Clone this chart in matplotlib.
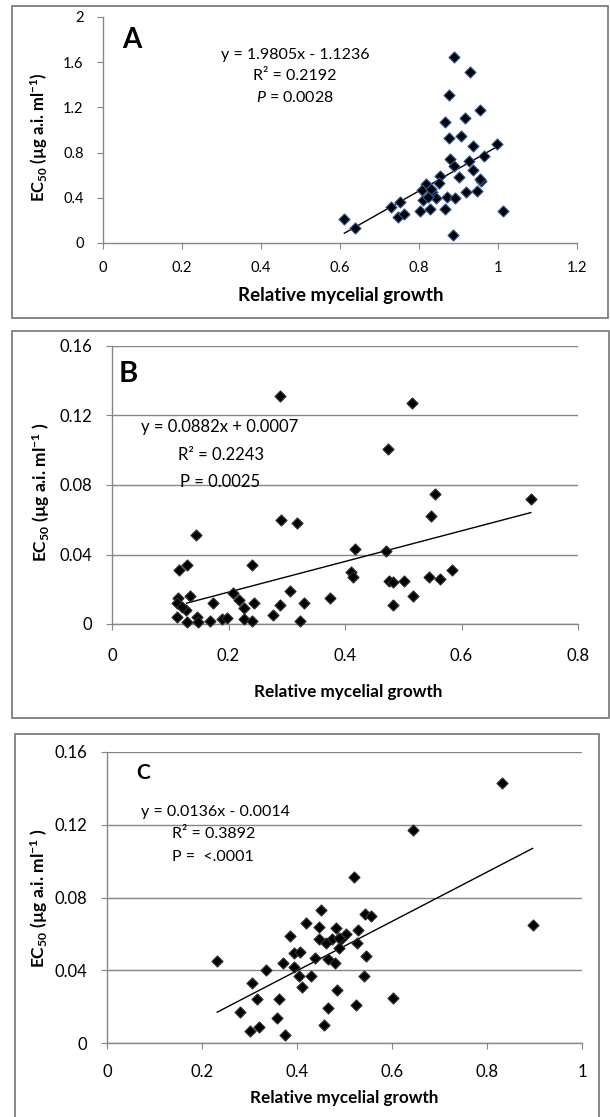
import matplotlib

matplotlib.use("Agg")
import matplotlib.pyplot as plt
from matplotlib.patches import Rectangle
import numpy as np

plt.rcParams["font.family"] = ["Lato", "DejaVu Sans"]
plt.rcParams["mathtext.fontset"] = "custom"
plt.rcParams["mathtext.rm"] = "Lato"
plt.rcParams["mathtext.it"] = "Lato:italic"
plt.rcParams["mathtext.bf"] = "Lato:bold"

W, H = 610, 1117
GRAY = "#868686"

# ---- panel A data ----
a_x = [0.888, 0.928, 0.876, 0.954, 0.867, 0.916, 0.876, 0.907, 0.937, 0.998,
       0.878, 0.965, 0.927, 0.888, 0.901, 0.937, 0.958, 0.854, 0.817, 0.850,
       0.808, 0.833, 0.844, 0.810, 0.871, 0.891, 0.920, 0.948, 0.823, 0.802,
       0.827, 0.865, 1.013, 0.885, 0.728, 0.752, 0.748, 0.762, 0.611, 0.638,
       0.831, 0.954]
a_y = [1.643, 1.510, 1.313, 1.177, 1.068, 1.103, 0.926, 0.950, 0.861, 0.876,
       0.743, 0.773, 0.729, 0.684, 0.581, 0.646, 0.552, 0.596, 0.522, 0.528,
       0.469, 0.448, 0.398, 0.383, 0.404, 0.398, 0.454, 0.457, 0.404, 0.280,
       0.301, 0.301, 0.280, 0.074, 0.316, 0.360, 0.227, 0.257, 0.212, 0.130,
       0.478, 0.566]
a_fit = (1.9805, -1.1236)
a_fit_range = (0.611, 0.998)

# ---- panel B data ----
b_x = [0.289, 0.515, 0.473, 0.554, 0.719, 0.548, 0.290, 0.318, 0.144, 0.417,
       0.471, 0.129, 0.241, 0.115, 0.411, 0.413, 0.584, 0.544, 0.563, 0.476,
       0.482, 0.502, 0.306, 0.208, 0.375, 0.517, 0.113, 0.134, 0.218, 0.173,
       0.244, 0.329, 0.483, 0.288, 0.112, 0.127, 0.226, 0.276, 0.112, 0.146,
       0.168, 0.188, 0.198, 0.227, 0.241, 0.322, 0.128, 0.148, 0.121]
b_y = [0.131, 0.127, 0.101, 0.075, 0.072, 0.062, 0.060, 0.058, 0.051, 0.043,
       0.042, 0.034, 0.034, 0.031, 0.030, 0.027, 0.031, 0.027, 0.026, 0.025,
       0.024, 0.025, 0.019, 0.018, 0.015, 0.016, 0.015, 0.016, 0.014, 0.012,
       0.012, 0.012, 0.011, 0.011, 0.012, 0.008, 0.009, 0.005, 0.004, 0.004,
       0.0015, 0.003, 0.0035, 0.003, 0.0017, 0.002, 0.001, 0.001, 0.010]
b_fit = (0.0882, 0.0007)
b_fit_range = (0.128, 0.719)

# ---- panel C data ----
c_x = [0.832, 0.645, 0.520, 0.450, 0.543, 0.555, 0.418, 0.447, 0.896, 0.482,
       0.528, 0.504, 0.386, 0.447, 0.474, 0.493, 0.460, 0.526, 0.488, 0.393,
       0.407, 0.546, 0.437, 0.466, 0.479, 0.232, 0.370, 0.393, 0.335, 0.405,
       0.430, 0.542, 0.410, 0.305, 0.484, 0.603, 0.316, 0.362, 0.525, 0.466,
       0.280, 0.358, 0.457, 0.302, 0.320, 0.375, 0.489]
c_y = [0.143, 0.117, 0.091, 0.073, 0.071, 0.070, 0.066, 0.064, 0.065, 0.063,
       0.062, 0.060, 0.059, 0.057, 0.057, 0.057, 0.055, 0.055, 0.052, 0.0495,
       0.050, 0.048, 0.047, 0.046, 0.044, 0.045, 0.044, 0.042, 0.040, 0.037,
       0.037, 0.037, 0.031, 0.033, 0.029, 0.025, 0.024, 0.024, 0.021, 0.019,
       0.017, 0.014, 0.010, 0.0066, 0.0086, 0.0046, 0.058]
c_fit = (0.1356, -0.0145)   # line as drawn on the figure
c_fit_range = (0.232, 0.896)

ylab = r"EC$_{\mathbf{50}}$ (µg a.i. ml$^{\mathbf{-1}}$)"
ylab_sp = r"EC$_{\mathbf{50}}$ (µg a.i. ml$^{\mathbf{-1}}$ )"


def px_axes(fig, left, top, right, bottom):
    return fig.add_axes([left / W, 1 - bottom / H, (right - left) / W, (bottom - top) / H])


def px_frame(fig, left, top, right, bottom):
    fig.add_artist(Rectangle((left / W, 1 - bottom / H), (right - left) / W,
                             (bottom - top) / H, transform=fig.transFigure,
                             fill=False, edgecolor="#7f7f7f", lw=1.3))


def ftext(fig, x, y, s, **kw):
    kw.setdefault("ha", "center")
    kw.setdefault("va", "center")
    fig.text(x / W, 1 - y / H, s, **kw)


def style(ax, xticks, yticks, fs, xpad, ypad, grid):
    ax.set_xlim(xticks[0], xticks[-1])
    ax.set_ylim(yticks[0], yticks[-1])
    for s in ("top", "right"):
        ax.spines[s].set_visible(False)
    for s in ("left", "bottom"):
        ax.spines[s].set_color(GRAY)
        ax.spines[s].set_linewidth(1.0)
    ax.set_xticks(xticks, [f"{v:g}" for v in xticks])
    ax.set_yticks(yticks, [f"{v:g}" for v in yticks])
    ax.tick_params(direction="out", length=4, color=GRAY, labelsize=fs)
    ax.tick_params(axis="x", pad=xpad)
    ax.tick_params(axis="y", pad=ypad)
    if grid:
        ax.yaxis.grid(True, color=GRAY, lw=1.0)
        ax.set_axisbelow(True)
    for sp in ax.spines.values():
        sp.set_clip_on(False)


def draw(ax, x, y, fit, rng, edge):
    ax.scatter(x, y, marker="D", s=32, c="black", edgecolors=edge, linewidths=0.8,
               zorder=3, clip_on=False)
    xs = np.array(rng)
    ax.plot(xs, fit[0] * xs + fit[1], color="black", lw=1.0, zorder=2)


fig = plt.figure(figsize=(W / 100, H / 100), dpi=100)

# panel A
px_frame(fig, 12, 6, 608, 318)
axA = px_axes(fig, 103, 17, 577, 243)
style(axA, np.arange(0, 1.21, 0.2).round(1), np.arange(0, 2.01, 0.4).round(1), 10.5, 9, 10, False)
draw(axA, a_x, a_y, a_fit, a_fit_range, "#2E5C9E")
ftext(fig, 132, 40, "A", fontsize=20, fontweight="bold")
ftext(fig, 295, 55, "y = 1.9805x - 1.1236", fontsize=11.5)
ftext(fig, 295, 76, "R² = 0.2192", fontsize=11.5)
ftext(fig, 295, 97, r"$P$ = 0.0028", fontsize=11.5)
ftext(fig, 341, 296, "Relative mycelial growth", fontsize=13.5, fontweight="bold")
ftext(fig, 39, 137, ylab, fontsize=12, fontweight="bold", rotation=90)

# panel B
px_frame(fig, 12, 331, 609, 718)
axB = px_axes(fig, 112, 346, 578, 624)
style(axB, np.arange(0, 0.81, 0.2).round(1), np.arange(0, 0.161, 0.04).round(2), 12, 13, 10, True)
draw(axB, b_x, b_y, b_fit, b_fit_range, "#303030")
ftext(fig, 128, 374, "B", fontsize=21, fontweight="bold")
ftext(fig, 220, 427, "y = 0.0882x + 0.0007", fontsize=12)
ftext(fig, 221, 455, "R² = 0.2243", fontsize=12)
ftext(fig, 220, 482, "P = 0.0025", fontsize=12)
ftext(fig, 348, 692, "Relative mycelial growth", fontsize=12.3, fontweight="bold")
ftext(fig, 41, 492, ylab_sp, fontsize=12.5, fontweight="bold", rotation=90)

# panel C
px_frame(fig, 15, 734, 599, 1130)
axC = px_axes(fig, 107, 752, 582, 1043)
style(axC, np.arange(0, 1.01, 0.2).round(1), np.arange(0, 0.161, 0.04).round(2), 12, 11, 10, True)
draw(axC, c_x, c_y, c_fit, c_fit_range, "#303030")
ftext(fig, 143, 773, "C", fontsize=15, fontweight="bold")
ftext(fig, 141, 812, "y = 0.0136x - 0.0014", fontsize=11.5, ha="left")
ftext(fig, 172, 834, "R² = 0.3892", fontsize=11.5, ha="left")
ftext(fig, 172, 857, "P =  <.0001", fontsize=11.5, ha="left")
ftext(fig, 344, 1098, "Relative mycelial growth", fontsize=12.3, fontweight="bold")
ftext(fig, 39, 898, ylab_sp, fontsize=12.5, fontweight="bold", rotation=90)

fig.savefig("out.png", dpi=100)
